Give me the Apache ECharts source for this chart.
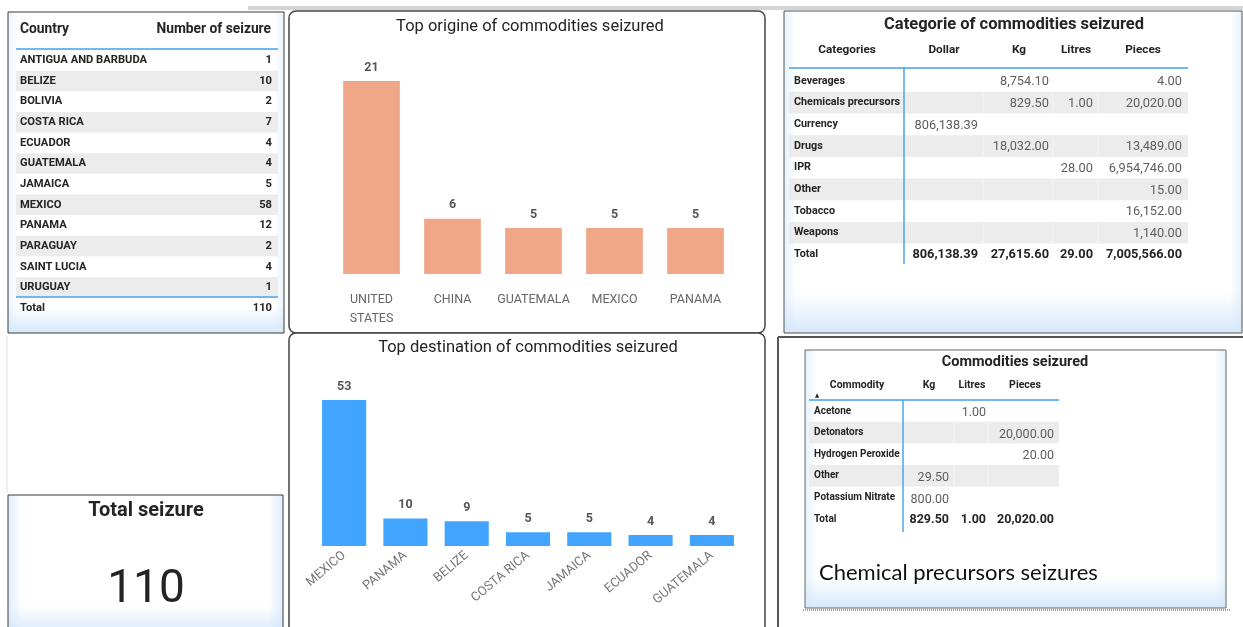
<!DOCTYPE html>
<html><head><meta charset="utf-8">
<script src="https://cdn.jsdelivr.net/npm/echarts@6/dist/echarts.min.js"></script>
<style>html,body{margin:0;padding:0;background:#fff}#c{width:1243px;height:627px}</style>
</head><body><div id="c"></div>
<script>
// ---------- DATA ----------
const countryNames = ['ANTIGUA AND BARBUDA','BELIZE','BOLIVIA','COSTA RICA','ECUADOR','GUATEMALA','JAMAICA','MEXICO','PANAMA','PARAGUAY','SAINT LUCIA','URUGUAY'];
const countrySeizures = [1,10,2,7,4,4,5,58,12,2,4,1];
const countryTotal = 110;

const originCountries = ['UNITED STATES','CHINA','GUATEMALA','MEXICO','PANAMA'];
const originValues = [21,6,5,5,5];

const destCountries = ['MEXICO','PANAMA','BELIZE','COSTA RICA','JAMAICA','ECUADOR','GUATEMALA'];
const destValues = [53,10,9,5,5,4,4];

const catHeaders = ['Categories','Dollar','Kg','Litres','Pieces'];
const catNames = ['Beverages','Chemicals precursors','Currency','Drugs','IPR','Other','Tobacco','Weapons'];
const catDollar = [null,null,806138.39,null,null,null,null,null];
const catKg = [8754.10,829.50,null,18032.00,null,null,null,null];
const catLitres = [null,1.00,null,null,28.00,null,null,null];
const catPieces = [4.00,20020.00,null,13489.00,6954746.00,15.00,16152.00,1140.00];
const catTotals = [806138.39,27615.60,29.00,7005566.00];

const comHeaders = ['Commodity','Kg','Litres','Pieces'];
const comNames = ['Acetone','Detonators','Hydrogen Peroxide','Other','Potassium Nitrate'];
const comKg = [null,null,null,29.50,800.00];
const comLitres = [1.00,null,null,null,null];
const comPieces = [null,20000.00,20.00,null,null];
const comTotals = [829.50,1.00,20020.00];

const totalSeizure = 110;

// ---------- HELPERS ----------
const FN = 'Roboto,"DejaVu Sans Condensed",sans-serif';
const els = [];
function T(x,y,text,size,weight,color,align,family){
  els.push({type:'text',x:x,y:y,z:20,silent:true,style:{text:String(text),font:weight+' '+size+'px '+(family||FN),fill:color,textAlign:align||'left',textVerticalAlign:'middle'}});
}
function R(x,y,w,h,fill,stroke,lw,r,z,extra){
  const s={fill:fill||'none',stroke:stroke||null,lineWidth:lw||0};
  if(extra) Object.assign(s,extra);
  els.push({type:'rect',z:z||0,silent:true,shape:{x:x,y:y,width:w,height:h,r:r||0},style:s});
}
function L(x1,y1,x2,y2,color,lw,z,dash){
  els.push({type:'line',z:z||15,silent:true,shape:{x1:x1,y1:y1,x2:x2,y2:y2},style:{stroke:color,lineWidth:lw||1,lineDash:dash||null}});
}
const G = echarts.graphic.LinearGradient;
function glow(x,y,w,h,border,bot,side,sideA){
  bot=bot||22; side=side||10; sideA=sideA==null?0.6:sideA;
  R(x,y,w,h,'#ffffff',null,0,0,0);
  R(x,y+h-bot,w,bot,new G(0,0,0,1,[{offset:0,color:'rgba(214,232,251,0)'},{offset:1,color:'rgba(214,232,251,1)'}]),null,0,0,1);
  R(x,y,side,h,new G(0,0,1,0,[{offset:0,color:'rgba(214,232,251,'+sideA+')'},{offset:1,color:'rgba(214,232,251,0)'}]),null,0,0,1);
  R(x+w-side,y,side,h,new G(0,0,1,0,[{offset:0,color:'rgba(214,232,251,0)'},{offset:1,color:'rgba(214,232,251,'+sideA+')'}]),null,0,0,1);
  if(border) R(x,y,w,h,'none',border,1,0,2);
}
function fmt(v){return v==null?'':v.toLocaleString('en-US',{minimumFractionDigits:2,maximumFractionDigits:2});}
const BLUE='#72b6f2', VBLUE='#4ea3ec', BAND='#ececec', LBL='#252423', VAL='#605e5c';

// top grey strip
R(248,6,995,4,'#d4d4d4',null,0,0,0);
L(7,336,7,492,'#dddddd',1,3);

// ---------- LEFT TABLE ----------
glow(8,12,276,321,'#3a3a3a',26,10,0.5);
T(20,30,'Country',13.8,'bold',LBL);
T(271,30,'Number of seizure',13.8,'bold',LBL,'right');
countryNames.forEach((n,i)=>{
  const cy=60.3+i*20.64;
  if(i%2===1) R(16,cy-10.3,262,20.6,BAND,null,0,0,5);
  T(20,cy,n,11.2,'bold',LBL);
  T(272,cy,countrySeizures[i],11.2,'bold',LBL,'right');
});
L(16,49,278,49,BLUE,2);
L(16,297,278,297,BLUE,2);
T(20,308,'Total',11.2,'bold',LBL);
T(272,308,countryTotal,11.2,'bold',LBL,'right');

// ---------- TOTAL CARD ----------
glow(8,495,275,140,'#3a3a3a',30,14,0.8);
T(146,511,'Total seizure',20,'bold',LBL,'center');
T(146,590,totalSeizure,46,'normal','#252423','center');

// ---------- CHART PANELS ----------
R(289,11,476,322,'#ffffff','#444444',1.5,7,0);
R(289,333,476,310,'#ffffff','#444444',1.5,7,0);
T(530,27,'Top origine of commodities seizured',16.5,'normal','#252423','center');
T(528,348,'Top destination of commodities seizured',16.5,'normal','#252423','center');

// ---------- CATEGORY TABLE ----------
glow(784,11,458,322,'#555555',40,12,0.6);
T(1014,25,'Categorie of commodities seizured',16.5,'bold',LBL,'center');
const catHdrX=[847,944,1019,1076,1143];
catHeaders.forEach((h,i)=>T(catHdrX[i],50,h,11.8,'bold',LBL,'center'));
const catCols=[catDollar,catKg,catLitres,catPieces];
const catRight=[978,1049,1093,1182];
catNames.forEach((n,i)=>{
  const cy=81+i*21.67;
  if(i%2===1){R(789,cy-10.8,399,21.67,BAND,null,0,0,5);[983,1053,1098].forEach(x=>L(x,cy-10.8,x,cy+10.8,'#f6f6f6',1,6));}
  T(794,cy,n,10.8,'bold',LBL);
  catCols.forEach((col,j)=>T(catRight[j],cy+1,fmt(col[i]),12.8,'normal',VAL,'right'));
});
catTotals.forEach((v,j)=>T(catRight[j],255,fmt(v),12.8,'bold','#252423','right'));
T(794,254,'Total',10.8,'bold',LBL);
L(789,68,1188,68,BLUE,2);
L(904,68,904,264,VBLUE,1.5);

// ---------- COMMODITIES TABLE ----------
L(778,337,778,627,'#555555',2,3);
L(778,337,1243,337,'#555555',2,3);
glow(805,350,421,258,'#666666',30,12,0.6);
L(803,610,1230,610,'#888888',1.5,3,[1,1]);
T(1015,362,'Commodities seizured',14.5,'bold',LBL,'center');
const comHdrX=[857,929,972,1025];
comHeaders.forEach((h,i)=>T(comHdrX[i],385,h,10.5,'bold',LBL,'center'));
T(817,395,'\u25B2',6,'normal','#252423','center');
const comCols=[comKg,comLitres,comPieces];
const comRight=[949,986,1054];
comNames.forEach((n,i)=>{
  const cy=411+i*21.6;
  if(i%2===1){R(809,cy-10.8,250,21.6,BAND,null,0,0,5);[954,988].forEach(x=>L(x,cy-10.8,x,cy+10.8,'#f6f6f6',1,6));}
  T(814,cy,n,10,'bold',LBL);
  comCols.forEach((col,j)=>T(comRight[j],cy+2,fmt(col[i]),12.5,'normal',VAL,'right'));
});
comTotals.forEach((v,j)=>T(comRight[j],520,fmt(v),12.5,'bold','#252423','right'));
T(814,519,'Total',10,'bold',LBL);
L(809,400,1059,400,BLUE,2);
L(903,400,903,532,VBLUE,1.5);
T(819,573,'Chemical precursors seizures',22,'normal','#111111','left','Lato,"Open Sans",sans-serif');

// ---------- CHART ----------
const chart = echarts.init(document.getElementById('c'),null,{renderer:'canvas'});
chart.setOption({
  animation:false,
  backgroundColor:'#ffffff',
  grid:[
    {left:331,top:81,width:405,height:193,outerBoundsMode:'none',containLabel:false},
    {left:313.5,top:400,width:429,height:146,outerBoundsMode:'none',containLabel:false}
  ],
  xAxis:[
    {type:'category',gridIndex:0,data:originCountries,axisLine:{show:false},axisTick:{show:false},
     axisLabel:{margin:16,color:'#666666',fontSize:12.5,fontFamily:FN,lineHeight:19,interval:0,formatter:v=>v.replace(' ','\n')}},
    {type:'category',gridIndex:1,data:destCountries,axisLine:{show:false},axisTick:{show:false},
     axisLabel:{margin:8,rotate:40,color:'#777777',fontSize:12.8,fontFamily:FN,interval:0}}
  ],
  yAxis:[
    {type:'value',gridIndex:0,min:0,max:'dataMax',show:false,splitLine:{show:false}},
    {type:'value',gridIndex:1,min:0,max:'dataMax',show:false,splitLine:{show:false}}
  ],
  series:[
    {type:'bar',xAxisIndex:0,yAxisIndex:0,data:originValues,barWidth:'70%',itemStyle:{color:'#f0a787'},
     label:{show:true,position:'top',distance:7,color:'#555555',fontSize:12.5,fontWeight:'bold',fontFamily:FN}},
    {type:'bar',xAxisIndex:1,yAxisIndex:1,data:destValues,barWidth:'72%',itemStyle:{color:'#41a4ff'},
     label:{show:true,position:'top',distance:7,color:'#555555',fontSize:12.5,fontWeight:'bold',fontFamily:FN}}
  ],
  graphic:{elements:els}
});
</script></body></html>
